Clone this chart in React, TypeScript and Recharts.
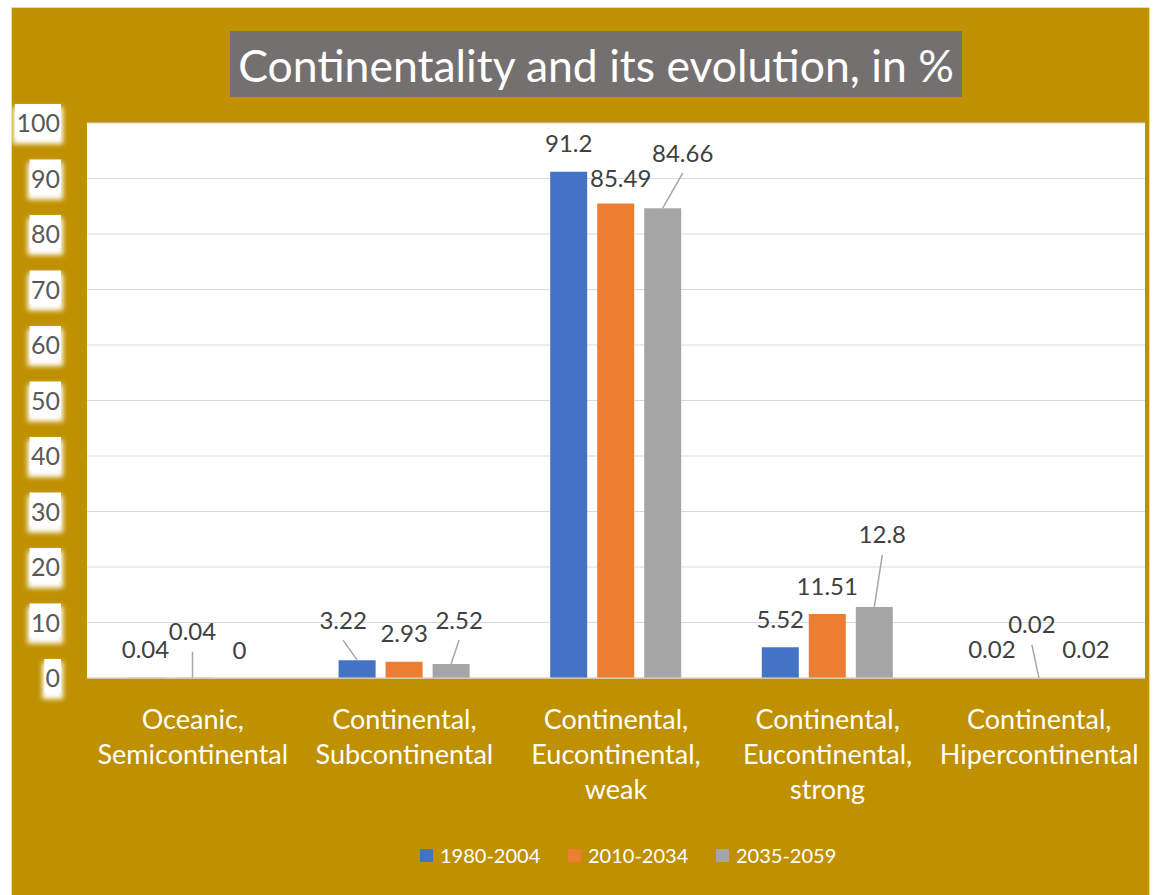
import React from "react";
import { BarChart, Bar, XAxis, YAxis, CartesianGrid, LabelList } from "recharts";

const categoryLines: string[][] = [
  ["Oceanic,", "Semicontinental"],
  ["Continental,", "Subcontinental"],
  ["Continental,", "Eucontinental,", "weak"],
  ["Continental,", "Eucontinental,", "strong"],
  ["Continental,", "Hipercontinental"],
];
const categories = categoryLines.map((l) => l.join(" "));
const series1980 = [0.04, 3.22, 91.2, 5.52, 0.02];
const series2010 = [0.04, 2.93, 85.49, 11.51, 0.02];
const series2035 = [0, 2.52, 84.66, 12.8, 0.02];
const yTicks = [0, 10, 20, 30, 40, 50, 60, 70, 80, 90, 100];
const seriesNames = ["1980-2004", "2010-2034", "2035-2059"];
const seriesColors = ["#4472C4", "#ED7D31", "#A5A5A5"];
const seriesValues = [series1980, series2010, series2035];

// label placement tweaks (dx, dy, leader line) per series
const labelTweaks: [number, number, boolean][][] = [
  [[0, 0, false], [-14, -12, true], [0, 0, false], [0, 0, false], [0, 0, false]],
  [[0, -18, true], [0, 0, false], [5, 3, false], [0, 0, false], [-7, -25, true]],
  [[0, 0, false], [8, -16, true], [20, -27, true], [8, -44, true], [0, 0, false]],
];

const BAR_GAP = 10;

const data = categories.map((c, i) => ({
  name: c,
  s1: series1980[i],
  s2: series2010[i],
  s3: series2035[i],
}));

const FONT = "Lato, 'Open Sans', sans-serif";

const renderOne = (si: number, idx: number, cx: number, top: number, key: string) => {
  const [dx, dy, leader] = labelTweaks[si][idx] || [0, 0, false];
  const lx = cx + dx;
  const ly = top - 28 + dy;
  return (
    <g key={key}>
      {leader && <line x1={lx} y1={ly + 20} x2={cx} y2={top} stroke="#A6A6A6" strokeWidth={1.5} />}
      <text x={lx} y={ly} dy={8.5} textAnchor="middle" fontSize={24} fill="#404040" fontFamily={FONT}>
        {String(seriesValues[si][idx])}
      </text>
    </g>
  );
};

const makeLabel = (si: number) => (props: any) => {
  const { x, y, width, height, value } = props;
  const idx = categories.indexOf(String(value));
  if (idx < 0) return null;
  const w = Number(width);
  const cx = Number(x) + w / 2;
  const top = Number(y);
  const bottom = Number(y) + Number(height);
  const out = [renderOne(si, idx, cx, top, "a")];
  // zero-height bars of the next series are not drawn by the library; place their label beside this bar
  if (si < 2 && seriesValues[si + 1][idx] === 0) {
    out.push(renderOne(si + 1, idx, cx + w + BAR_GAP, bottom, "b"));
  }
  return <g>{out}</g>;
};

const YTick = (props: any) => {
  const { x, y, payload } = props;
  const label = String(payload.value);
  const w = label.length * 14.7;
  const right = Number(x);
  return (
    <g>
      <rect x={right - w - 3} y={y - 16} width={w + 6} height={37} fill="#fff" filter="url(#glowBlur)" />
      <rect x={right - w - 1} y={y - 19} width={w + 2} height={33} fill="#fff" />
      <text x={right} y={y} dy={9} textAnchor="end" fontSize={25} fill="#595959" fontFamily={FONT}>
        {label}
      </text>
    </g>
  );
};

const XTick = (props: any) => {
  const { x, y, payload, index } = props;
  const lines = categoryLines[index] || [String(payload.value)];
  return (
    <g>
      {lines.map((l, i) => (
        <text key={i} x={x} y={y + 43 + i * 35} textAnchor="middle" fontSize={27} fill="#FFFFFF" fontFamily={FONT}>
          {l}
        </text>
      ))}
    </g>
  );
};

export default function App() {
  return (
    <div style={{ position: "absolute", left: 0, top: 0, width: 1155, height: 895, background: "#fff", overflow: "hidden" }}>
      <svg width={0} height={0} style={{ position: "absolute" }}>
        <defs>
          <filter id="glowBlur" x="-50%" y="-50%" width="200%" height="200%">
            <feGaussianBlur stdDeviation={2.5} />
          </filter>
        </defs>
      </svg>
      <div
        style={{
          position: "absolute",
          left: 11,
          top: 7,
          width: 1137,
          height: 900,
          background: "#BF9000",
          border: "1px solid #D9D9D9",
        }}
      />
      <div
        style={{
          position: "absolute",
          left: 230,
          top: 31,
          width: 732,
          height: 66,
          background: "#757070",
          color: "#fff",
          fontFamily: FONT,
          fontSize: 44.5,
          display: "flex",
          alignItems: "center",
          justifyContent: "center",
        }}
      >
        Continentality and its evolution, in %
      </div>
      <div style={{ position: "absolute", left: 0, top: 0 }}>
        <BarChart
          width={1155}
          height={895}
          data={data}
          margin={{ top: 123, right: 10, bottom: 0, left: 0 }}
          barSize={37}
          barGap={BAR_GAP}
        >
          <CartesianGrid vertical={false} stroke="#D9D9D9" fill="#FFFFFF" fillOpacity={1} />
          <XAxis
            dataKey="name"
            tick={<XTick />}
            tickLine={false}
            axisLine={{ stroke: "#D9D9D9" }}
            interval={0}
            height={217}
          />
          <YAxis
            domain={[0, 100]}
            ticks={yTicks}
            tick={<YTick />}
            tickLine={false}
            axisLine={false}
            tickSize={0}
            tickMargin={27}
            width={87}
            interval={0}
          />
          <Bar dataKey="s1" name={seriesNames[0]} fill={seriesColors[0]} isAnimationActive={false}>
            <LabelList dataKey="name" content={makeLabel(0)} />
          </Bar>
          <Bar dataKey="s2" name={seriesNames[1]} fill={seriesColors[1]} isAnimationActive={false}>
            <LabelList dataKey="name" content={makeLabel(1)} />
          </Bar>
          <Bar dataKey="s3" name={seriesNames[2]} fill={seriesColors[2]} isAnimationActive={false}>
            <LabelList dataKey="name" content={makeLabel(2)} />
          </Bar>
        </BarChart>
      </div>
      <div
        style={{
          position: "absolute",
          top: 843,
          left: 420,
          display: "flex",
          fontFamily: FONT,
          fontSize: 20,
          color: "#fff",
          lineHeight: "24px",
        }}
      >
        {seriesNames.map((n, i) => (
          <div key={n} style={{ display: "flex", alignItems: "center", width: 148 }}>
            <div style={{ width: 13, height: 13, background: seriesColors[i], marginRight: 7 }} />
            <span>{n}</span>
          </div>
        ))}
      </div>
    </div>
  );
}
